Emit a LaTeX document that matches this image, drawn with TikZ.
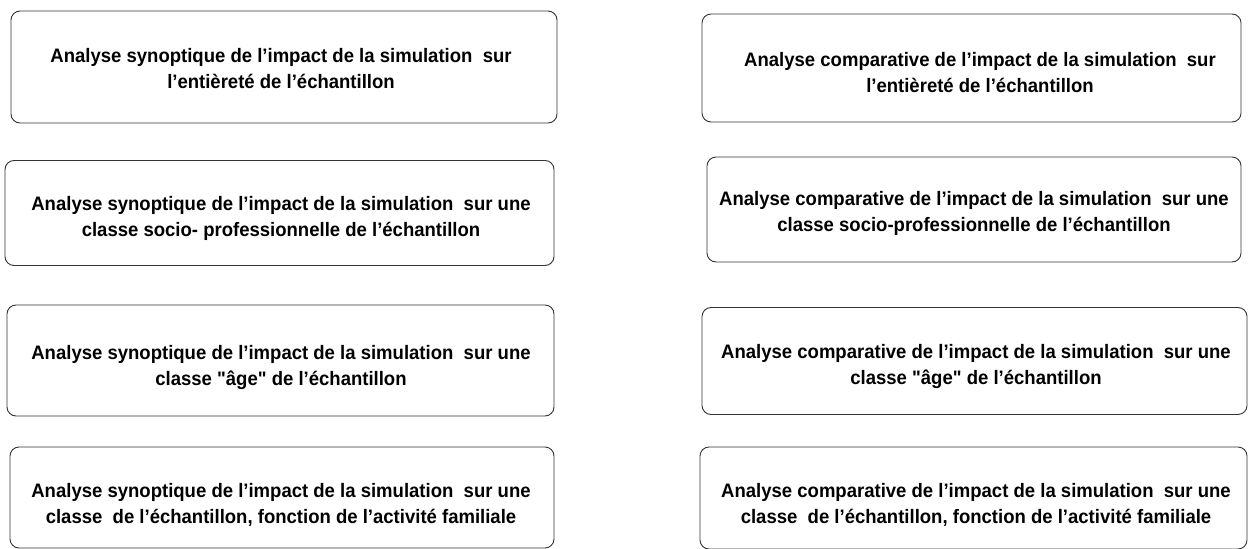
\documentclass[tikz,border=0pt]{standalone}
\usepackage{fontspec}
\setmainfont{Liberation Sans}[FakeStretch=0.95, Ligatures=TeXOff]
\begin{document}
\begin{tikzpicture}[x=1pt,y=-1pt,
  box/.style={draw=black!80, line width=0.9pt, rounded corners=9pt, inner sep=0pt},
  lbl/.style={font=\fontsize{19.5}{26}\selectfont\bfseries, align=center, text=black, inner sep=0pt}]
\useasboundingbox (0,0) rectangle (1248,549);
% left column
\node[box, minimum width=546pt, minimum height=112pt] (b1) at (284,67) {};
\node[box, minimum width=549pt, minimum height=105pt] (b2) at (279.5,213) {};
\node[box, minimum width=547pt, minimum height=111pt] (b3) at (280.5,360.5) {};
\node[box, minimum width=544pt, minimum height=101pt] (b4) at (282,497.5) {};
% right column
\node[box, minimum width=539pt, minimum height=108pt] (b5) at (971.5,68) {};
\node[box, minimum width=534pt, minimum height=105pt] (b6) at (974,209.5) {};
\node[box, minimum width=545pt, minimum height=107pt] (b7) at (974.5,361) {};
\node[box, minimum width=547pt, minimum height=102pt] (b8) at (973.5,498) {};
% texts
\node[lbl] (t1) at (281,69) {Analyse synoptique de l’impact de la simulation\ \ sur\\l’entièreté de l’échantillon};
\node[lbl] (t2) at (281,218) {Analyse synoptique de l’impact de la simulation\ \ sur une\\classe socio- professionnelle de l’échantillon};
\node[lbl] (t3) at (281,367) {Analyse synoptique de l’impact de la simulation\ \ sur une\\classe "âge" de l’échantillon};
\node[lbl] (t4) at (281,505) {Analyse synoptique de l’impact de la simulation\ \ sur une\\classe\ \ de l’échantillon, fonction de l’activité familiale};
\node[lbl] (t5) at (980,73) {Analyse comparative de l’impact de la simulation\ \ sur\\l’entièreté de l’échantillon};
\node[lbl] (t6) at (974,213) {Analyse comparative de l’impact de la simulation\ \ sur une\\classe socio-professionnelle de l’échantillon};
\node[lbl] (t7) at (976,366) {Analyse comparative de l’impact de la simulation\ \ sur une\\classe "âge" de l’échantillon};
\node[lbl] (t8) at (976,505) {Analyse comparative de l’impact de la simulation\ \ sur une\\classe\ \ de l’échantillon, fonction de l’activité familiale};
\end{tikzpicture}
\end{document}
